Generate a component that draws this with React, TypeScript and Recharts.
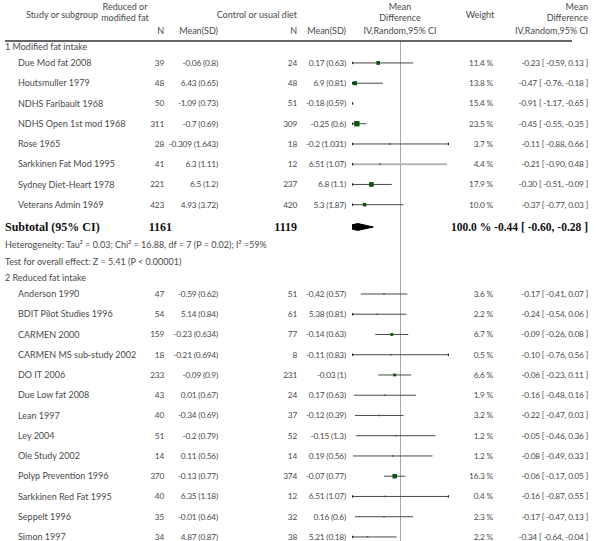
import React from "react";
import { ScatterChart, Scatter, XAxis, YAxis, ReferenceLine } from "recharts";

// ---- data: 1 Modified fat intake ----
const G1_STUDY = [
  "Due Mod fat 2008",
  "Houtsmuller 1979",
  "NDHS Faribault 1968",
  "NDHS Open 1st mod 1968",
  "Rose 1965",
  "Sarkkinen Fat Mod 1995",
  "Sydney Diet-Heart 1978",
  "Veterans Admin 1969",
];
const G1_N_EXP = [39, 48, 50, 311, 28, 41, 221, 423];
const G1_MEAN_EXP = [-0.06, 6.43, -1.09, -0.7, -0.309, 6.3, 6.5, 4.93];
const G1_SD_EXP = [0.8, 0.65, 0.73, 0.69, 1.643, 1.11, 1.2, 3.72];
const G1_N_CTL = [24, 48, 51, 309, 18, 12, 237, 420];
const G1_MEAN_CTL = [0.17, 6.9, -0.18, -0.25, -0.2, 6.51, 6.8, 5.3];
const G1_SD_CTL = [0.63, 0.81, 0.59, 0.6, 1.031, 1.07, 1.1, 1.87];
const G1_WEIGHT = [11.4, 13.8, 15.4, 23.5, 3.7, 4.4, 17.9, 10.0];
const G1_MD = [-0.23, -0.47, -0.91, -0.45, -0.11, -0.21, -0.3, -0.37];
const G1_LO = [-0.59, -0.76, -1.17, -0.55, -0.88, -0.9, -0.51, -0.77];
const G1_HI = [0.13, -0.18, -0.65, -0.35, 0.66, 0.48, -0.09, 0.03];

const G1_TOTAL = { nExp: 1161, nCtl: 1119, weight: 100.0, md: -0.44, lo: -0.6, hi: -0.28 };
const G1_HETEROGENEITY = "Heterogeneity: Tau\u00b2 = 0.03; Chi\u00b2 = 16.88, df = 7 (P = 0.02); I\u00b2 =59%";
const G1_OVERALL = "Test for overall effect: Z = 5.41 (P < 0.00001)";

// ---- data: 2 Reduced fat intake ----
const G2_STUDY = [
  "Anderson 1990",
  "BDIT Pilot Studies 1996",
  "CARMEN 2000",
  "CARMEN MS sub-study 2002",
  "DO IT 2006",
  "Due Low fat 2008",
  "Lean 1997",
  "Ley 2004",
  "Ole Study 2002",
  "Polyp Prevention 1996",
  "Sarkkinen Red Fat 1995",
  "Seppelt 1996",
  "Simon 1997",
];
const G2_N_EXP = [47, 54, 159, 18, 233, 43, 40, 51, 14, 370, 40, 35, 34];
const G2_MEAN_EXP = [-0.59, 5.14, -0.23, -0.21, -0.09, 0.01, -0.34, -0.2, 0.11, -0.13, 6.35, -0.01, 4.87];
const G2_SD_EXP = [0.62, 0.84, 0.634, 0.694, 0.9, 0.67, 0.69, 0.79, 0.56, 0.77, 1.18, 0.64, 0.87];
const G2_N_CTL = [51, 61, 77, 8, 231, 24, 37, 52, 14, 374, 12, 32, 38];
const G2_MEAN_CTL = [-0.42, 5.38, -0.14, -0.11, -0.03, 0.17, -0.12, -0.15, 0.19, -0.07, 6.51, 0.16, 5.21];
const G2_SD_CTL = [0.57, 0.81, 0.63, 0.83, 1, 0.63, 0.39, 1.3, 0.56, 0.77, 1.07, 0.6, 0.18];
const G2_WEIGHT = [3.6, 2.2, 6.7, 0.5, 6.6, 1.9, 3.2, 1.2, 1.2, 16.3, 0.4, 2.3, 2.2];
const G2_MD = [-0.17, -0.24, -0.09, -0.1, -0.06, -0.16, -0.22, -0.05, -0.08, -0.06, -0.16, -0.17, -0.34];
const G2_LO = [-0.41, -0.54, -0.26, -0.76, -0.23, -0.48, -0.47, -0.46, -0.49, -0.17, -0.87, -0.47, -0.64];
const G2_HI = [0.07, 0.06, 0.08, 0.56, 0.11, 0.16, 0.03, 0.36, 0.33, 0.05, 0.55, 0.13, -0.04];

const GROUP_TITLES = ["1 Modified fat intake", "2 Reduced fat intake"];
const X_DOMAIN: [number, number] = [-0.5, 0.5];

// ---- layout ----
const FONT = "Lato, 'Open Sans', sans-serif";
const SERIF = "'Liberation Serif', 'DejaVu Serif', serif";
const TXT = "#4a4a4a";
const COL = { group: 5, study: 18, nExp: 164, mExp: 218, nCtl: 297, mCtl: 346, weight: 493, md: 588 };
const Y_MAX = 26.72;
const RULE_SLOT = 2.02;

type Study = {
  name: string; nExp: number; mExp: number; sdExp: number; nCtl: number; mCtl: number; sdCtl: number;
  weight: number; md: number; lo: number; hi: number; slot: number;
};
type Row = { kind: string; slot: number; study?: Study; label?: string };

function makeStudies(names: string[], ne: number[], me: number[], se: number[], nc: number[], mc: number[], sc: number[], w: number[], md: number[], lo: number[], hi: number[]) {
  return names.map((name, i) => ({
    name, nExp: ne[i], mExp: me[i], sdExp: se[i], nCtl: nc[i], mCtl: mc[i], sdCtl: sc[i],
    weight: w[i], md: md[i], lo: lo[i], hi: hi[i], slot: 0,
  }));
}

const g1 = makeStudies(G1_STUDY, G1_N_EXP, G1_MEAN_EXP, G1_SD_EXP, G1_N_CTL, G1_MEAN_CTL, G1_SD_CTL, G1_WEIGHT, G1_MD, G1_LO, G1_HI);
const g2 = makeStudies(G2_STUDY, G2_N_EXP, G2_MEAN_EXP, G2_SD_EXP, G2_N_CTL, G2_MEAN_CTL, G2_SD_CTL, G2_WEIGHT, G2_MD, G2_LO, G2_HI);

const rows: Row[] = [
  { kind: "headA", slot: 0.35 },
  { kind: "headB", slot: 0.89 },
  { kind: "headC", slot: 1.53 },
];
let s = 2.32;
rows.push({ kind: "group", slot: s, label: GROUP_TITLES[0] });
s += 0.79;
g1.forEach((st, i) => {
  if (i > 0) s += 1;
  st.slot = s;
  rows.push({ kind: "study", slot: s, study: st });
});
s += 1.1;
const subtotalSlot = s;
rows.push({ kind: "subtotal", slot: s });
s += 0.89;
rows.push({ kind: "text", slot: s, label: G1_HETEROGENEITY });
s += 0.84;
rows.push({ kind: "text", slot: s, label: G1_OVERALL });
s += 0.79;
rows.push({ kind: "group", slot: s, label: GROUP_TITLES[1] });
s += 0.79;
g2.forEach((st, i) => {
  if (i > 0) s += 1;
  st.slot = s;
  rows.push({ kind: "study", slot: s, study: st });
});

const allStudies = [...g1, ...g2];
const clamp = (v: number) => Math.max(X_DOMAIN[0], Math.min(X_DOMAIN[1], v));
const inDomain = (v: number) => v >= X_DOMAIN[0] && v <= X_DOMAIN[1];

const squareData = allStudies.filter((d) => inDomain(d.md)).map((d) => ({ x: d.md, y: d.slot, w: d.weight }));
const arrowData = [
  ...allStudies.filter((d) => d.lo < X_DOMAIN[0]).map((d) => ({ x: X_DOMAIN[0], y: d.slot })),
  ...allStudies.filter((d) => d.hi > X_DOMAIN[1]).map((d) => ({ x: X_DOMAIN[1], y: d.slot })),
];
const diamondData = [
  { x: G1_TOTAL.lo, y: subtotalSlot },
  { x: G1_TOTAL.md, y: subtotalSlot - 0.17 },
  { x: G1_TOTAL.hi, y: subtotalSlot },
  { x: G1_TOTAL.md, y: subtotalSlot + 0.17 },
];

const fmtMd = (md: number, lo: number, hi: number) => `${md.toFixed(2)} [ ${lo.toFixed(2)}, ${hi.toFixed(2)} ]`;

// word text
function T(p: { x: number; y: number; a?: "start" | "middle" | "end"; children: React.ReactNode }) {
  return (
    <text x={p.x} y={p.y} dy="0.35em" textAnchor={p.a ?? "start"} fontFamily={FONT} fontSize={9} fill={TXT}>
      {p.children}
    </text>
  );
}

// numeric text, a touch narrower
function Num(p: { x: number; y: number; children: React.ReactNode }) {
  return (
    <text x={p.x} y={p.y} dy="0.35em" textAnchor="end" fontFamily={FONT} fontSize={8.3} letterSpacing={-0.2} fill={TXT}>
      {p.children}
    </text>
  );
}

function RowTick(props: any) {
  const { y, payload } = props;
  const row = rows.find((r) => Math.abs(r.slot - payload.value) < 1e-6);
  if (!row) return <g />;
  if (row.kind === "headA") {
    return (
      <g>
        <T x={125} y={y} a="middle">Reduced or</T>
        <T x={400} y={y} a="middle">Mean</T>
        <T x={COL.md} y={y} a="end">Mean</T>
      </g>
    );
  }
  if (row.kind === "headB") {
    return (
      <g>
        <T x={62} y={y - 3} a="middle">Study or subgroup</T>
        <T x={125} y={y} a="middle">modified fat</T>
        <T x={COL.nCtl} y={y - 3} a="end">Control or usual diet</T>
        <T x={400} y={y} a="middle">Difference</T>
        <T x={480} y={y - 3} a="middle">Weight</T>
        <T x={COL.md} y={y} a="end">Difference</T>
      </g>
    );
  }
  if (row.kind === "headC") {
    return (
      <g>
        <T x={COL.nExp} y={y} a="end">N</T>
        <T x={COL.mExp} y={y} a="end">Mean(SD)</T>
        <T x={COL.nCtl} y={y} a="end">N</T>
        <T x={COL.mCtl} y={y} a="end">Mean(SD)</T>
        <T x={400} y={y} a="middle">IV,Random,95% CI</T>
        <T x={COL.md} y={y} a="end">IV,Random,95% CI</T>
        <line x1={5} x2={572} y1={y + 10} y2={y + 10} stroke="#333" strokeWidth={1.5} />
      </g>
    );
  }
  if (row.kind === "group" || row.kind === "text") {
    return <T x={COL.group} y={y}>{row.label}</T>;
  }
  if (row.kind === "subtotal") {
    const b = { fontFamily: SERIF, fontSize: 12, fontWeight: 700, fill: "#111", dy: "0.35em" };
    return (
      <g>
        <text x={COL.group} y={y} {...b}>Subtotal (95% CI)</text>
        <text x={COL.nExp + 8} y={y} textAnchor="end" {...b}>{G1_TOTAL.nExp}</text>
        <text x={COL.nCtl} y={y} textAnchor="end" {...b}>{G1_TOTAL.nCtl}</text>
        <text x={COL.md} y={y} textAnchor="end" {...b} fontSize={11.5}>
          {`${G1_TOTAL.weight.toFixed(1)} % ${fmtMd(G1_TOTAL.md, G1_TOTAL.lo, G1_TOTAL.hi)}`}
        </text>
      </g>
    );
  }
  const st = row.study!;
  return (
    <g>
      <T x={COL.study} y={y}>{st.name}</T>
      <Num x={COL.nExp} y={y}>{st.nExp}</Num>
      <Num x={COL.mExp} y={y}>{`${st.mExp} (${st.sdExp})`}</Num>
      <Num x={COL.nCtl} y={y}>{st.nCtl}</Num>
      <Num x={COL.mCtl} y={y}>{`${st.mCtl} (${st.sdCtl})`}</Num>
      <Num x={COL.weight} y={y}>{`${st.weight.toFixed(1)} %`}</Num>
      <Num x={COL.md} y={y}>{fmtMd(st.md, st.lo, st.hi)}</Num>
    </g>
  );
}

function Square(props: any) {
  const { cx, cy, payload } = props;
  const big = payload.w >= 5;
  const side = big ? 1.1 * Math.sqrt(payload.w) : 1.6;
  return <rect x={cx - side / 2} y={cy - side / 2} width={side} height={side} fill={big ? "#0b5410" : "#555"} />;
}

function Arrow(props: any) {
  const { cx, cy } = props;
  return <rect x={cx - 1.2} y={cy - 1.2} width={2.4} height={2.4} fill="#222" />;
}

export default function App() {
  return (
    <div style={{ position: "absolute", left: 0, top: 0, background: "#fff" }}>
      <ScatterChart width={600} height={541} margin={{ top: 0, right: 151, bottom: 0, left: 351 }}>
        <XAxis type="number" dataKey="x" domain={X_DOMAIN} allowDataOverflow hide />
        <YAxis
          type="number"
          dataKey="y"
          domain={[0, Y_MAX]}
          allowDataOverflow
          reversed
          width={1}
          ticks={rows.map((r) => r.slot)}
          interval={0}
          tick={(p: any) => <RowTick {...p} />}
          axisLine={false}
          tickLine={false}
        />
        <ReferenceLine
          segment={[{ x: 0, y: RULE_SLOT }, { x: 0, y: Y_MAX }]}
          stroke="#a8a8a8"
          strokeWidth={1}
          ifOverflow="visible"
        />
        {allStudies
          .filter((d) => clamp(d.hi) > clamp(d.lo))
          .map((d) => (
            <ReferenceLine
              key={d.name}
              segment={[{ x: clamp(d.lo), y: d.slot }, { x: clamp(d.hi), y: d.slot }]}
              stroke={d.name === "Sarkkinen Fat Mod 1995" ? "#b4b4b4" : "#4a4a4a"}
              strokeWidth={d.name === "Sarkkinen Fat Mod 1995" ? 2 : 1}
              ifOverflow="visible"
            />
          ))}
        <Scatter data={squareData} shape={<Square />} isAnimationActive={false} />
        <Scatter data={arrowData} shape={<Arrow />} isAnimationActive={false} />
        <Scatter
          data={diamondData}
          shape={() => <g />}
          line={(p: any) => (
            <polygon points={p.points.map((q: any) => `${q.x},${q.y}`).join(" ")} fill="#000" stroke="#000" />
          )}
          isAnimationActive={false}
        />
      </ScatterChart>
    </div>
  );
}
